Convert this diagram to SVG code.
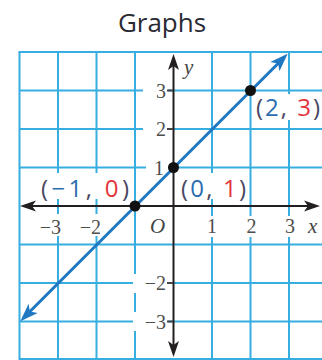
<svg xmlns="http://www.w3.org/2000/svg" width="322" height="360" viewBox="0 0 322 360">
<style>
.grid line{stroke:#37aee0;stroke-width:2}
.bg{fill:#fff}
.axis{stroke:#231f20;stroke-width:2;fill:none}
.graph{stroke:#1f78c1;stroke-width:3;fill:none}
.pt{fill:#111}
.title{font-family:"Open Sans",sans-serif;font-size:26px;fill:#2a2a33;text-anchor:middle}
.num{font-family:"Liberation Serif",serif;font-size:20px;fill:#4d4d4d}
.ynum{text-anchor:end}
.xnum{text-anchor:middle}
.var{font-family:"Liberation Serif",serif;font-size:21px;font-style:italic;fill:#444}
.plab{font-family:"Open Sans",sans-serif;font-size:24px;fill:#4a4763}
.xc{fill:#2b6cb0}
.yc{fill:#e2353b}
.tick{stroke:#444;stroke-width:2}
</style>
<defs>
<marker id="ah-axis" markerUnits="userSpaceOnUse" viewBox="0 0 16 12" markerWidth="16" markerHeight="12" refX="12" refY="6" orient="auto-start-reverse">
<path d="M16,6 L0,0.5 L4,6 L0,11.5 Z" fill="#231f20"/>
</marker>
<marker id="ah-line" markerUnits="userSpaceOnUse" viewBox="0 0 18 14" markerWidth="18" markerHeight="14" refX="14" refY="7" orient="auto-start-reverse">
<path d="M18,7 L0,0.5 L4.5,7 L0,13.5 Z" fill="#1f78c1"/>
</marker>
</defs>

<g id="title"><text class="title" x="162" y="32">Graphs</text></g>

<g id="grid" class="grid">
<line x1="19.5" y1="52" x2="19.5" y2="360"/>
<line x1="58" y1="52" x2="58" y2="360"/>
<line x1="96.5" y1="52" x2="96.5" y2="360"/>
<line x1="135" y1="52" x2="135" y2="360"/>
<line x1="212" y1="52" x2="212" y2="360"/>
<line x1="250.5" y1="52" x2="250.5" y2="360"/>
<line x1="289" y1="52" x2="289" y2="360"/>
<line x1="18.5" y1="52" x2="322" y2="52"/>
<line x1="19.5" y1="90.5" x2="322" y2="90.5"/>
<line x1="19.5" y1="129" x2="322" y2="129"/>
<line x1="19.5" y1="167.5" x2="322" y2="167.5"/>
<line x1="19.5" y1="244.5" x2="322" y2="244.5"/>
<line x1="19.5" y1="283" x2="322" y2="283"/>
<line x1="19.5" y1="321.5" x2="322" y2="321.5"/>
<line x1="19.5" y1="359" x2="322" y2="359"/>
</g>

<g id="label-backgrounds" class="bg">
<rect x="143" y="81" width="25" height="19"/>
<rect x="143" y="120" width="25" height="19"/>
<rect x="146" y="158" width="22" height="19"/>
<rect x="133" y="274" width="35" height="19"/>
<rect x="133" y="312" width="35" height="19"/>
<rect x="30" y="214" width="33" height="22"/>
<rect x="72" y="214" width="31" height="22"/>
<rect x="146" y="214" width="20" height="22"/>
<rect x="205" y="216" width="14" height="21"/>
<rect x="244" y="216" width="15" height="21"/>
<rect x="282" y="216" width="15" height="21"/>
<rect x="305" y="216" width="17" height="21"/>
<rect x="181" y="58" width="17" height="22"/>
<rect x="39" y="173" width="93" height="26"/>
<rect x="179" y="173" width="70" height="26"/>
<rect x="254" y="94" width="68" height="26"/>
</g>

<g id="connectors">
<line class="axis" x1="24" y1="206" x2="316" y2="206" marker-start="url(#ah-axis)" marker-end="url(#ah-axis)"/>
<line class="axis" x1="173.5" y1="353" x2="173.5" y2="58" marker-start="url(#ah-axis)" marker-end="url(#ah-axis)"/>
<g class="tick">
<line x1="167" y1="90.5" x2="173" y2="90.5"/>
<line x1="167" y1="129" x2="173" y2="129"/>
<line x1="167" y1="283" x2="173" y2="283"/>
<line x1="167" y1="321.5" x2="173" y2="321.5"/>
</g>
<line class="graph" x1="23.2" y1="318.3" x2="284.8" y2="56.7" marker-start="url(#ah-line)" marker-end="url(#ah-line)"/>
</g>

<g id="axis-labels">
<text class="num ynum" x="166" y="97.5">3</text>
<text class="num ynum" x="166" y="136">2</text>
<text class="num ynum" x="164" y="174.5">1</text>
<text class="num ynum" x="166" y="290">−2</text>
<text class="num ynum" x="166" y="328.5">−3</text>
<text class="num ynum" x="61" y="234">−3</text>
<text class="num ynum" x="101" y="234">−2</text>
<text class="num xnum" x="212" y="233">1</text>
<text class="num xnum" x="251.5" y="233">2</text>
<text class="num xnum" x="290" y="233">3</text>
<text class="var" x="150" y="233">O</text>
<text class="var" x="308" y="233">x</text>
<text class="var" x="184" y="74">y</text>
</g>

<g id="point-m1-0">
<circle class="pt" cx="135" cy="206" r="5.5"/>
<text class="plab" x="41" y="197" textLength="88" lengthAdjust="spacing">(<tspan class="xc">−1</tspan>, <tspan class="yc">0</tspan>)</text>
</g>
<g id="point-0-1">
<circle class="pt" cx="173.5" cy="167.5" r="5.5"/>
<text class="plab" x="181" y="197" textLength="65" lengthAdjust="spacing">(<tspan class="xc">0</tspan>, <tspan class="yc">1</tspan>)</text>
</g>
<g id="point-2-3">
<circle class="pt" cx="250.5" cy="90.5" r="5.5"/>
<text class="plab" x="256" y="116" textLength="64" lengthAdjust="spacing">(<tspan class="xc">2</tspan>, <tspan class="yc">3</tspan>)</text>
</g>
</svg>
